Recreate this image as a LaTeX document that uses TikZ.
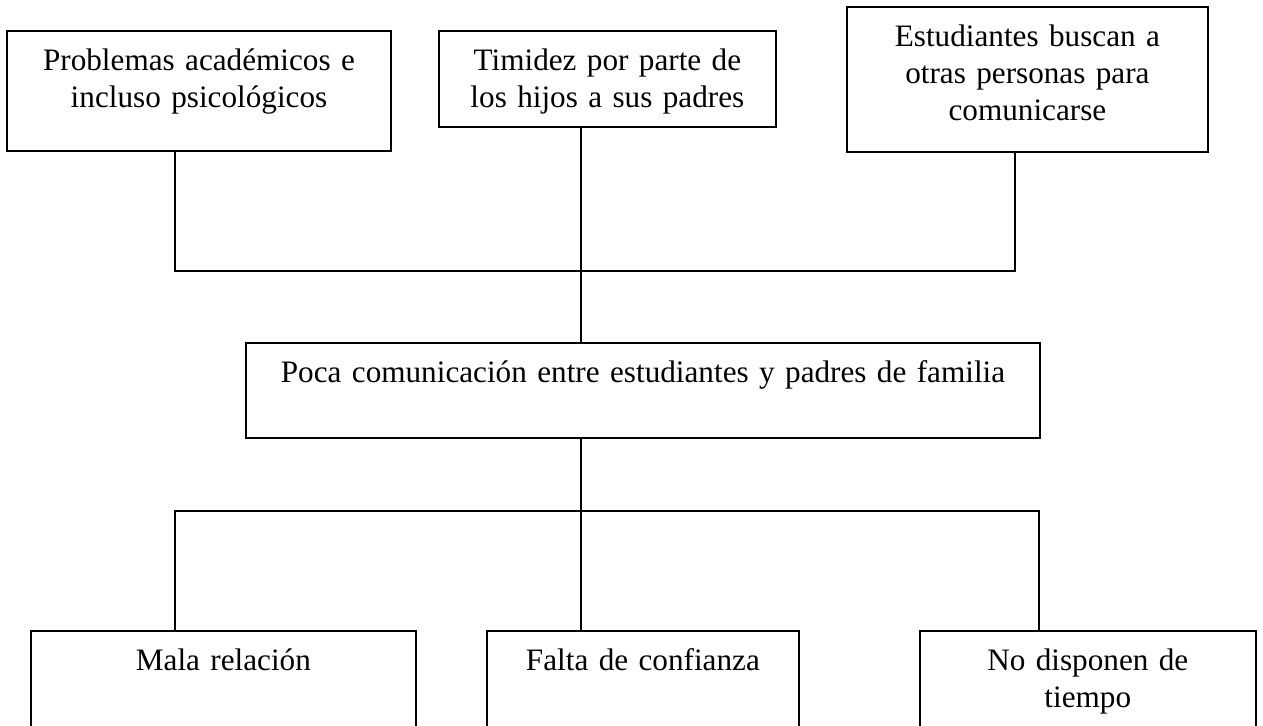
\documentclass[tikz,border=0pt]{standalone}
\usepackage{fontspec}
\setmainfont{Liberation Serif}
\tikzset{
  box/.style={draw,line width=1pt,anchor=north west,inner sep=0pt,outer sep=0pt,
    align=center,text height=19.5pt,font=\fontsize{15.6}{18.5}\selectfont},
  link/.style={line width=0.7pt}, % plain lines, no arrow heads
}

\begin{document}
\begin{tikzpicture}[x=0.5pt,y=-0.5pt]
    \useasboundingbox (0,0) rectangle (1263,725);
    % causes
    \node[box,text width=192pt,text depth=40.5pt] (p1) at (7,31) {Problemas académicos e\\incluso psicológicos};
    \node[box,text width=168.4pt,text depth=28.5pt] (p2) at (439,31) {Timidez por parte de\\los hijos a sus padres};
    \node[box,text width=180.4pt,text depth=53pt] (p3) at (847,7) {Estudiantes buscan a\\otras personas para\\comunicarse};
    % problem
    \node[box,text width=397pt,text depth=28pt] (mid) at (246,343) {Poca comunicación entre estudiantes y padres de familia};
    % effects
    \node[box,text width=192.4pt,text depth=44.5pt] (ea) at (31,631) {Mala relación};
    \node[box,text width=155.9pt,text depth=44.5pt] (eb) at (487,631) {Falta de confianza};
    \node[box,text width=167.8pt,text depth=44.5pt] (ec) at (920,631) {No disponen de\\tiempo};
    \coordinate (ja) at (175,271);
    \coordinate (jb) at (581,271);
    \coordinate (jc) at (1015,271);
    \coordinate (ka) at (175,511);
    \coordinate (kc) at (1039,511);
    \draw[link] (p1.south -| ja) -- (ja) -- (jc) -- (p3.south -| jc);
    \draw[link] (p2.south -| jb) -- (mid.north -| jb);
    \draw[link] (mid.south -| jb) -- (eb.north -| jb);
    \draw[link] (ea.north -| ka) -- (ka) -- (kc) -- (ec.north -| kc);
\end{tikzpicture}
\end{document}
